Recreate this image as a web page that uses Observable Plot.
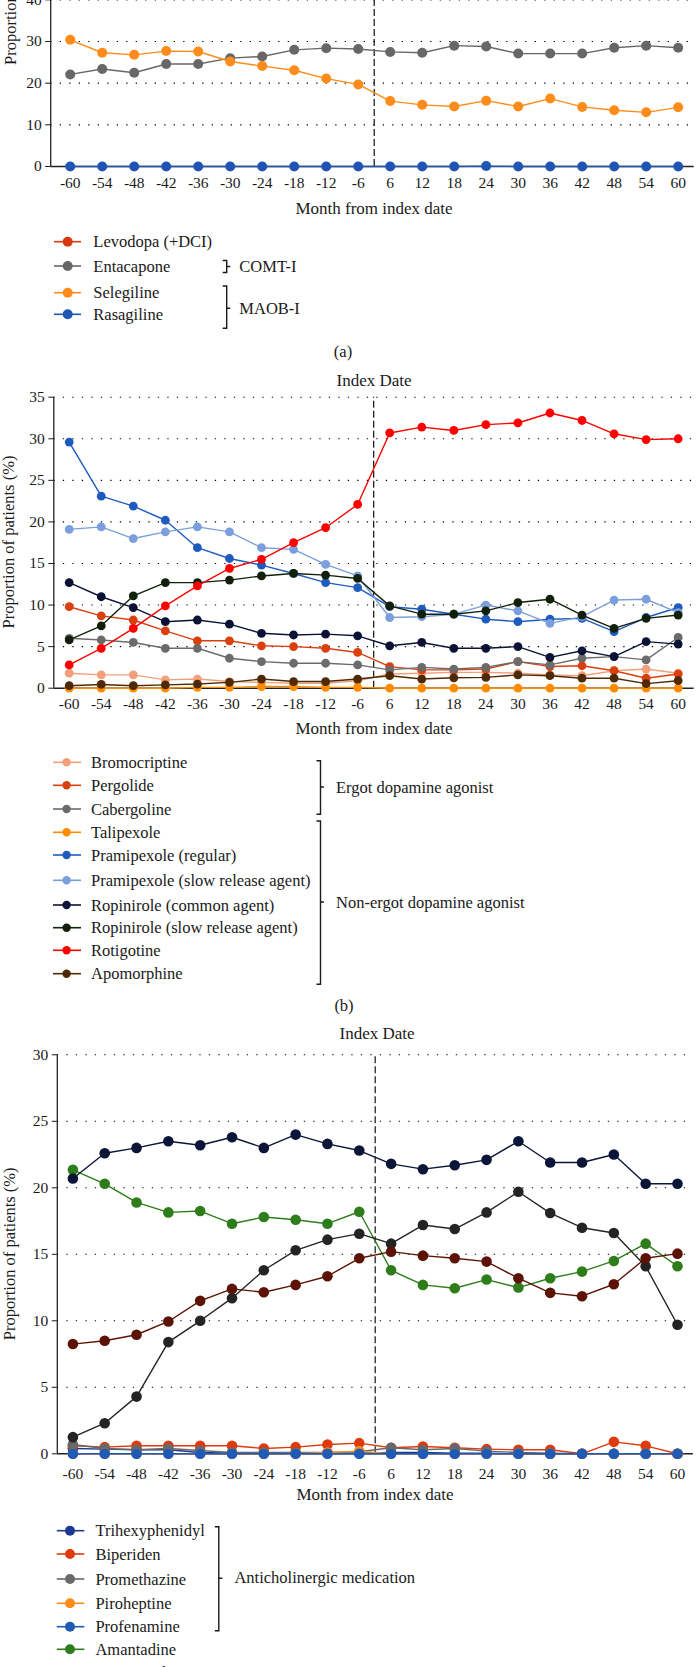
<!DOCTYPE html>
<html><head><meta charset="utf-8">
<script src="https://cdn.jsdelivr.net/npm/d3@7"></script>
<script src="https://cdn.jsdelivr.net/npm/@observablehq/plot@0.6"></script>
<style>
body{margin:0;background:#fff;}
#page{position:relative;width:696px;height:1667px;overflow:hidden;background:#fff;}
#page svg{position:absolute;left:0;}
</style></head><body><div id="page"></div><script>
const months = [-60,-54,-48,-42,-36,-30,-24,-18,-12,-6,6,12,18,24,30,36,42,48,54,60];

// Panel (a)
const aNames = ["Levodopa (+DCI)","Entacapone","Selegiline","Rasagiline"];
const aColors = ["#d9380f","#676767","#ff8c1a","#2056b3"];
const levodopa   = [86.5,86.1,85.7,85.9,85.2,84.8,84.6,84.1,83.9,83.5,82.1,81.8,82.3,81.5,81.9,81.2,80.8,81.0,80.5,80.9];
const entacapone = [22.1,23.4,22.5,24.6,24.6,26.0,26.4,28.0,28.4,28.2,27.5,27.3,29.0,28.8,27.1,27.1,27.1,28.5,29.0,28.5];
const selegiline = [30.4,27.3,26.8,27.7,27.6,25.2,24.1,23.1,21.1,19.7,15.7,14.8,14.4,15.8,14.4,16.3,14.3,13.5,13.0,14.2];
const rasagiline = [0,0,0,0,0,0,0,0,0,0,0,0,0,0.1,0,0,0,0,0,0];
const aValues = [levodopa, entacapone, selegiline, rasagiline];
const aTicks = [0,10,20,30,40,50,60,70,80,90];

// Panel (b)
const bNames = ["Bromocriptine","Pergolide","Cabergoline","Talipexole","Pramipexole (regular)","Pramipexole (slow release agent)","Ropinirole (common agent)","Ropinirole (slow release agent)","Rotigotine","Apomorphine"];
const bColors = ["#f2a07c","#d9400e","#6b6b6b","#ff8c00","#1f5bbf","#7b9fdc","#0b1236","#12200a","#ff0000","#4d2a05"];
const bromocriptine = [1.8,1.6,1.6,1.0,1.1,0.8,0.7,0.6,0.6,0.9,1.7,1.8,1.9,1.9,1.8,1.6,1.5,2.1,2.3,1.8];
const pergolide     = [9.8,8.7,8.2,6.9,5.7,5.7,5.1,5.0,4.8,4.3,2.6,2.2,2.2,2.3,3.2,2.6,2.7,2.1,1.2,1.7];
const cabergoline   = [6.0,5.8,5.5,4.8,4.8,3.6,3.2,3.0,3.0,2.8,2.2,2.5,2.3,2.5,3.2,2.8,3.6,3.8,3.4,6.1];
const talipexole    = [0,0,0,0,0.1,0.1,0.2,0.2,0.1,0.1,0,0,0,0,0,0,0,0,0,0];
const pramRegular   = [29.6,23.1,21.9,20.2,16.9,15.6,14.8,13.8,12.7,12.1,9.8,9.5,8.9,8.3,8.0,8.3,8.4,6.8,8.5,9.7];
const pramSlow      = [19.1,19.4,18.0,18.8,19.4,18.8,16.9,16.7,14.9,13.5,8.5,8.6,8.9,10.0,9.3,7.8,8.6,10.6,10.7,9.1];
const ropCommon     = [12.7,11.0,9.7,8.0,8.2,7.7,6.6,6.4,6.5,6.3,5.1,5.5,4.8,4.8,5.0,3.7,4.5,3.8,5.6,5.3];
const ropSlow       = [5.8,7.5,11.1,12.7,12.7,13.0,13.5,13.8,13.6,13.2,9.9,8.9,8.9,9.3,10.3,10.7,8.8,7.2,8.4,8.8];
const rotigotine    = [2.8,4.8,7.2,9.9,12.3,14.4,15.5,17.5,19.3,22.1,30.7,31.4,31.0,31.7,31.9,33.1,32.2,30.6,29.9,30.0];
const apomorphine   = [0.3,0.45,0.3,0.4,0.5,0.7,1.1,0.8,0.8,1.1,1.5,1.1,1.25,1.3,1.6,1.5,1.2,1.2,0.55,0.9];
const bValues = [bromocriptine,pergolide,cabergoline,talipexole,pramRegular,pramSlow,ropCommon,ropSlow,rotigotine,apomorphine];
const bTicks = [0,5,10,15,20,25,30,35];

// Panel (c)
const cNames = ["Trihexyphenidyl","Biperiden","Promethazine","Piroheptine","Profenamine","Amantadine","Zonisamide","Istradefylline","Droxidopa"];
const cColors = ["#1b3a8f","#dd3b0c","#686868","#ff8c1a","#1f5bb5","#2e7d1a","#0b1538","#242424","#5c1306"];
const trihexyphenidyl = [0.4,0.35,0.3,0.3,0.1,0.05,0.05,0.05,0.05,0.05,0.1,0.1,0.05,0.05,0,0,0,0,0,0];
const biperiden       = [0.6,0.5,0.6,0.6,0.6,0.6,0.4,0.5,0.7,0.8,0.45,0.55,0.45,0.35,0.3,0.3,0,0.9,0.6,0];
const promethazine    = [0.7,0.4,0.3,0.4,0.25,0.1,0.1,0.1,0.1,0.15,0.45,0.3,0.4,0.2,0.1,0.05,0,0,0,0];
const piroheptine     = [0,0,0,0,0,0,0,0,0.1,0.2,0,0,0,0,0,0,0,0,0,0];
const profenamine     = [0,0,0,0,0,0,0,0,0,0,0,0,0,0,0,0,0,0,0,0];
const amantadine      = [21.35,20.3,18.9,18.15,18.25,17.3,17.8,17.6,17.3,18.2,13.8,12.7,12.45,13.1,12.5,13.2,13.7,14.5,15.8,14.1];
const zonisamide      = [20.7,22.6,23.0,23.5,23.2,23.8,23.0,24.0,23.3,22.8,21.8,21.4,21.7,22.1,23.5,21.9,21.9,22.5,20.3,20.3];
const istradefylline  = [1.25,2.3,4.3,8.4,10.0,11.7,13.8,15.3,16.1,16.55,15.8,17.2,16.9,18.15,19.7,18.1,17.0,16.6,14.1,9.7];
const droxidopa       = [8.25,8.5,8.95,9.95,11.5,12.4,12.15,12.7,13.35,14.7,15.2,14.9,14.7,14.45,13.2,12.1,11.85,12.75,14.7,15.05];
const cValues = [trihexyphenidyl,biperiden,promethazine,piroheptine,profenamine,amantadine,zonisamide,istradefylline,droxidopa];
const cTicks = [0,5,10,15,20,25,30];

const page = document.getElementById("page");
const FONT = "Liberation Serif, Times New Roman, Tinos, DejaVu Serif, Noto Serif, serif";

function panel(cfg) {
  const marks = [
    Plot.gridY(cfg.ticks.slice(1), {stroke:"#000", strokeOpacity:1, strokeWidth:1.1, strokeDasharray:"1.3,8.2"}),
    Plot.ruleX([9.5], {y1:0, y2:cfg.yTop, stroke:"#111", strokeWidth:1.2, strokeDasharray:"7,3"}),
    Plot.ruleX([cfg.x0], {y1:0, y2:cfg.yTop, stroke:"#222", strokeWidth:1.3}),
    Plot.ruleY([0], {stroke:"#222", strokeWidth:1.4})
  ];
  cfg.values.forEach((vals, k) => {
    const data = months.map((m, i) => ({i, v: vals[i]}));
    marks.push(Plot.line(data, {x:"i", y:"v", stroke:cfg.colors[k], strokeWidth:1.4}));
    marks.push(Plot.dot(data, {x:"i", y:"v", r:cfg.r, fill:cfg.colors[k], stroke:"none"}));
  });
  marks.push(Plot.axisY(cfg.ticks, {tickSize:5, tickPadding:4, tickFormat:d => String(d), fontSize:15.5, label:null}));
  marks.push(Plot.axisX(d3.range(20), {tickSize:0, tickPadding:cfg.xpad, tickFormat:i => String(months[i]), fontSize:15.5, label:null}));
  const svg = Plot.plot({
    width:696, height:cfg.height,
    marginTop:cfg.mt, marginBottom:cfg.mb, marginLeft:cfg.ml, marginRight:cfg.mr,
    x:{type:"linear", domain:[cfg.x0, 19.5], label:null},
    y:{domain:[0, cfg.yTop], label:null},
    style:{fontFamily:FONT, fontSize:"15.5px", background:"transparent", overflow:"visible", color:"#1a1a1a"},
    marks
  });
  svg.setAttribute("font-family", FONT);
  svg.style.top = cfg.top + "px";
  page.appendChild(svg);
}

panel({top:-230, height:446, mt:21, mb:50, ml:50.2, mr:2.3, x0:-0.61, yTop:90, ticks:aTicks, values:aValues, colors:aColors, r:5, xpad:10});
panel({top:370, height:367.7, mt:26.7, mb:50, ml:53.3, mr:2.3, x0:-0.48, yTop:35, ticks:bTicks, values:bValues, colors:bColors, r:4.4, xpad:10});
panel({top:1040, height:463.3, mt:14.3, mb:50, ml:56.8, mr:3.1, x0:-0.49, yTop:30, ticks:cTicks, values:cValues, colors:cColors, r:5.3, xpad:14});

// Overlay: titles, legends, brackets
const ov = d3.select(page).append("svg").attr("width",696).attr("height",1667)
  .style("top","0px").style("font-family",FONT);
function txt(x, y, s, size=16.5, anchor="start", rotate=0) {
  ov.append("text").attr("transform",`translate(${x},${y}) rotate(${rotate})`)
    .attr("text-anchor",anchor).attr("dy","0.35em").attr("font-size",size)
    .style("font-family",FONT)
    .attr("fill","#1a1a1a").text(s);
}
function legend(names, colors, ys, xl0, xl1, xm, xt, r) {
  names.forEach((n, k) => {
    const y = ys[k];
    ov.append("line").attr("x1",xl0).attr("x2",xl1).attr("y1",y).attr("y2",y)
      .attr("stroke",colors[k]).attr("stroke-width",1.6);
    ov.append("circle").attr("cx",xm).attr("cy",y).attr("r",r).attr("fill",colors[k]);
    txt(xt, y, n, 16.5);
  });
}
function bracket(x, y1, y2, ym) {
  ov.append("path").attr("d",`M${x-4},${y1}H${x}V${y2}H${x-4}M${x},${ym}H${x+3.5}`)
    .attr("fill","none").attr("stroke","#1a1a1a").attr("stroke-width",1.4);
}

// y-axis labels
txt(10, -21.5, "Proportion of patients (%)", 16.5, "middle", -90);
txt(8.5, 542, "Proportion of patients (%)", 16.5, "middle", -90);
txt(9.5, 1253.8, "Proportion of patients (%)", 16.5, "middle", -90);

// panel (a) texts
txt(374, 208, "Month from index date", 17, "middle");
legend(aNames, aColors, [241.7,266,292.7,314.3], 54, 81, 67.7, 93.3, 5);
bracket(226.7, 260.5, 272.5, 266.5);
txt(239.3, 266, "COMT-I", 16.5);
bracket(226.7, 286, 328.3, 308.3);
txt(239.3, 308.3, "MAOB-I", 16.5);
txt(343, 351.7, "(a)", 16.5, "middle");

// panel (b) texts
txt(374, 380, "Index Date", 17, "middle");
txt(374, 728.3, "Month from index date", 17, "middle");
legend(bNames, bColors, [762.3,785.3,809,832.3,855,880.3,905,927.7,950.3,973.7], 53, 81, 66.6, 91, 4.2);
bracket(320.5, 760.7, 814.3, 787);
txt(336, 787, "Ergot dopamine agonist", 16.5);
bracket(320.5, 821, 984.3, 902);
txt(336, 902, "Non-ergot dopamine agonist", 16.5);
txt(344, 1005.7, "(b)", 16.5, "middle");

// panel (c) texts
txt(377, 1033, "Index Date", 17, "middle");
txt(375, 1494.5, "Month from index date", 17, "middle");
legend(cNames, cColors, [1530.7,1554,1579,1603.3,1626.7,1649.3,1672.6,1696,1719], 56.8, 84.3, 70, 95.4, 5);
bracket(218.8, 1526.7, 1630.7, 1578.3);
txt(234.4, 1577.5, "Anticholinergic medication", 16.5);
</script></body></html>
